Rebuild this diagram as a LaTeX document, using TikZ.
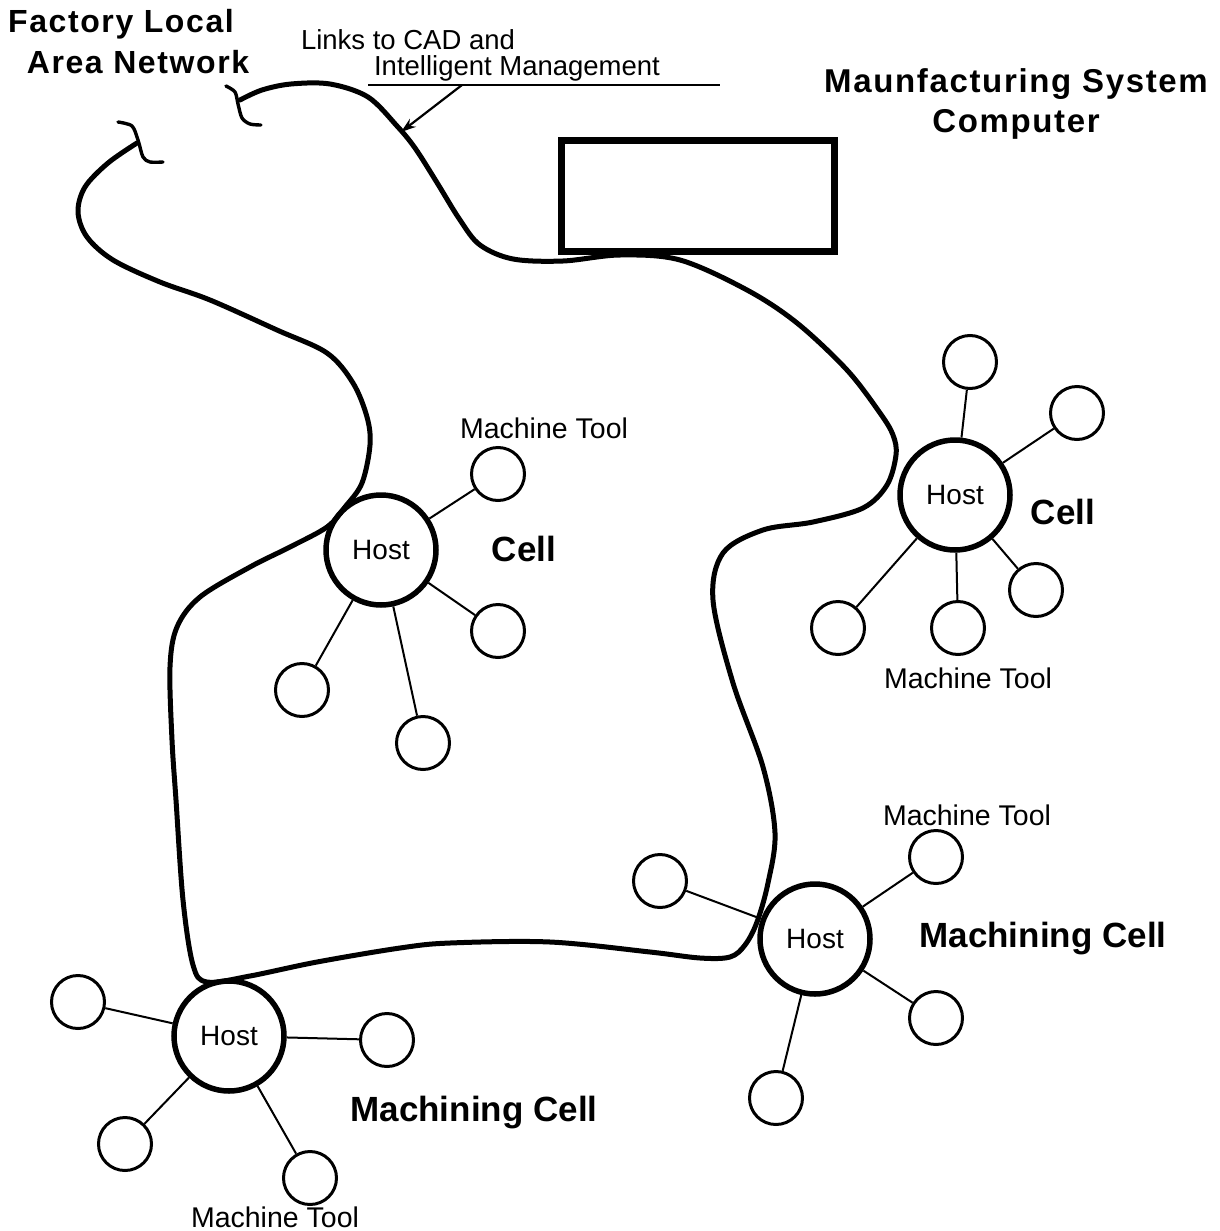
\documentclass[tikz,border=0pt]{standalone}
\usepackage{fontspec}
\setmainfont{Liberation Sans}
\newfontfamily\headfont[LetterSpace=5]{Liberation Sans}
\usetikzlibrary{arrows.meta}

\tikzset{
  host/.style={circle, draw, line width=5.5pt, minimum size=110pt, inner sep=0pt,
               font=\fontsize{28}{30}\selectfont},
  tool/.style={circle, draw, line width=3pt, minimum size=53pt, inner sep=0pt},
  spoke/.style={line width=2pt},
  lan/.style={line width=5pt, line cap=round, line join=round},
  cutmark/.style={line width=3.4pt, line cap=round},
  headlabel/.style={font=\headfont\fontsize{32}{40}\selectfont\bfseries, align=center},
  celllabel/.style={font=\fontsize{35}{36}\selectfont\bfseries},
  toollabel/.style={font=\fontsize{28.5}{30}\selectfont},
  linklabel/.style={font=\fontsize{27.5}{30}\selectfont, inner sep=0.5pt},
}

\begin{document}
\begin{tikzpicture}[x=1pt, y=-1pt, >={Stealth[length=15pt, width=10pt]}]
  \useasboundingbox (0,0) rectangle (1219,1231);

  % Titles
  \node[headlabel] (fll1) at (121,24) {Factory Local};
  \node[headlabel] (fll2) at (138,62) {Area Network};
  \node[headlabel, font=\headfont\fontsize{33}{40}\selectfont\bfseries] (msctxt) at (1016,104)
    {Maunfacturing System\\Computer};
  \node[linklabel] (links1) at (408,40) {Links to CAD and};
  \node[linklabel] (links2) at (517,68) {Intelligent Management};

  % Manufacturing system computer
  \node[draw, line width=7pt, minimum width=273pt, minimum height=111pt] (msc) at (698,196) {};

  % Factory LAN
  \draw[lan] plot[smooth, tension=0.55] coordinates {
    (137,143) (108,163) (85,187) (78,212) (87,237) (113,260) (160,282) (210,300)
    (277,330) (327,353) (353,383) (367,417) (370,445) (362,483) (345,507) (327,527)
    (290,547) (250,567) (200,597) (177,627) (170,667) (172,740) (176,800) (183,900)
    (193,965) (207,982) (250,976) (317,962) (400,948) (450,943) (550,942) (650,952)
    (700,958) (730,957) (745,945) (757,922) (768,883) (775,833) (763,767) (733,683)
    (713,600) (723,553) (763,530) (813,522) (863,508) (887,485) (896,455) (893,435)
    (880,413) (847,370) (797,323) (747,290) (680,260) (620,255) (563,261) (513,259)
    (480,245) (460,220) (436,181) (415,148) (397,126) (368,97) (330,84) (291,84)
    (262,90) (240,100)};
  % broken ends
  \draw[cutmark] plot[smooth] coordinates {(118,122) (132,126) (138,140) (143,157) (150,162) (163,162)};
  \draw[cutmark] plot[smooth] coordinates {(226,86) (235,92) (238,104) (242,118) (250,124) (261,125)};

  % Links arrow
  \coordinate (ulA) at (368,85);
  \coordinate (ulB) at (720,85);
  \coordinate (ulM) at (462,85);
  \coordinate (lanhit) at (401,132);
  \draw[line width=1.8pt] (ulA) -- (ulB);
  \draw[->, line width=2.2pt] (ulM) -- (lanhit);

  % Cell (left)
  \node[host] (hostL) at (381,550) {Host};
  \node[tool] (L1) at (498,474) {};
  \node[tool] (L2) at (498,631) {};
  \node[tool] (L3) at (302,690) {};
  \node[tool] (L4) at (423,743) {};
  \foreach \t in {L1,L2,L3,L4} \draw[spoke] (hostL) -- (\t);
  \node[celllabel] (cellL) at (524,549) {Cell};
  \node[toollabel] (mtL) at (544,428) {Machine Tool};

  % Cell (right)
  \node[host] (hostR) at (955,495) {Host};
  \node[tool] (R1) at (970,362) {};
  \node[tool] (R2) at (1077,413) {};
  \node[tool] (R3) at (1036,590) {};
  \node[tool] (R4) at (958,628) {};
  \node[tool] (R5) at (838,628) {};
  \foreach \t in {R1,R2,R3,R4,R5} \draw[spoke] (hostR) -- (\t);
  \node[celllabel] (cellR) at (1063,512) {Cell};
  \node[toollabel] (mtR) at (968,678) {Machine Tool};

  % Machining cell (right)
  \node[host] (hostM) at (815,939) {Host};
  \node[tool] (M1) at (660,881) {};
  \node[tool] (M2) at (936,857) {};
  \node[tool] (M3) at (936,1018) {};
  \node[tool] (M4) at (776,1098) {};
  \foreach \t in {M1,M2,M3,M4} \draw[spoke] (hostM) -- (\t);
  \node[celllabel] (cellM) at (1043,939) {Machining Cell};
  \node[toollabel] (mtM) at (967,815) {Machine Tool};

  % Machining cell (left)
  \node[host] (hostB) at (229,1036) {Host};
  \node[tool] (B1) at (78,1002) {};
  \node[tool] (B2) at (387,1040) {};
  \node[tool] (B3) at (125,1144) {};
  \node[tool] (B4) at (310,1178) {};
  \foreach \t in {B1,B2,B3,B4} \draw[spoke] (hostB) -- (\t);
  \node[celllabel] (cellB) at (474,1113) {Machining Cell};
  \node[toollabel] (mtB) at (275,1217) {Machine Tool};
\end{tikzpicture}
\end{document}
